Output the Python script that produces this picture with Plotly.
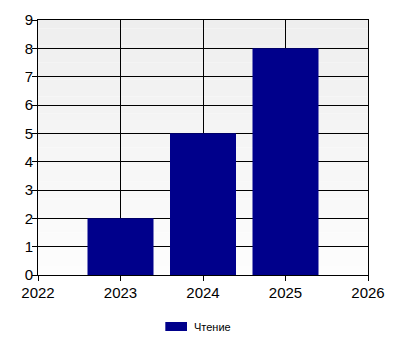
import plotly.graph_objects as go

years = [2023, 2024, 2025]
values = [2, 5, 8]
series_name = "Чтение"
bar_color = "#00008B"

fig = go.Figure()
fig.add_trace(go.Bar(x=years, y=values, name=series_name, width=0.8,
                     marker=dict(color=bar_color, line=dict(width=0)),
                     showlegend=False))

# gradient background for the plot area
n = 30
for i in range(n):
    t = i / (n - 1)
    c = int(round(0xEE + (0xFD - 0xEE) * t))
    fig.add_shape(type="rect", xref="x domain", yref="y domain",
                  x0=0, x1=1, y0=1 - (i + 1) / n, y1=1 - i / n,
                  fillcolor=f"rgb({c},{c},{c})", line=dict(width=0), layer="below")

# legend (swatch + label) below the plot
fig.add_shape(type="rect", xref="paper", yref="paper",
              x0=0.3858, x1=0.4515, y0=-0.2196, y1=-0.1843,
              fillcolor=bar_color, line=dict(width=0))
fig.add_annotation(xref="paper", yref="paper", x=0.4660, y=-0.2035,
                   xanchor="left", yanchor="middle", showarrow=False,
                   text=series_name, font=dict(size=11, color="black"))

tickfont = dict(family="Liberation Sans Narrow, Liberation Sans, Arial, sans-serif",
                size=15, color="black")

fig.update_layout(
    width=400, height=350,
    margin=dict(l=37.5, r=32, t=20, b=75, autoexpand=False),
    paper_bgcolor="white", plot_bgcolor="rgba(0,0,0,0)",
    font=dict(family="Liberation Sans, Arial, sans-serif", size=12, color="black"),
    showlegend=False,
)
fig.update_xaxes(range=[2022, 2026], dtick=1, tick0=2022, showgrid=True, gridcolor="black",
                 gridwidth=1, showline=True, linecolor="black", linewidth=1, mirror=True,
                 ticks="outside", ticklen=5, tickcolor="black", zeroline=False,
                 tickfont=tickfont, ticklabelstandoff=-1, fixedrange=True)
fig.update_yaxes(range=[0, 9], dtick=1, tick0=0, showgrid=True, gridcolor="black",
                 gridwidth=1, showline=True, linecolor="black", linewidth=1, mirror=True,
                 ticks="outside", ticklen=5, tickcolor="black", zeroline=False,
                 tickfont=tickfont, ticklabelstandoff=-4, fixedrange=True,
                 layer="below traces")

fig.write_html("out.html")
